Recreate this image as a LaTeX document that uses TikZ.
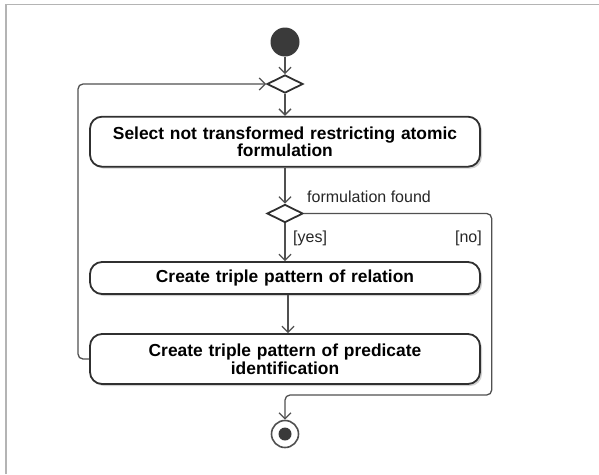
\documentclass[tikz,border=0pt]{standalone}
\usepackage{fontspec}
\setmainfont{Liberation Sans}
\usetikzlibrary{arrows.meta,shapes.geometric,shadows}
\definecolor{edge}{HTML}{505050}
\definecolor{border}{HTML}{303030}
\definecolor{frame}{HTML}{B4B4B4}
\definecolor{blob}{HTML}{3A3A3A}
\begin{document}
\begin{tikzpicture}[x=1pt,y=-1pt,
  action/.style={draw=border, line width=1.8pt, rounded corners=12pt, fill=white,
    minimum width=390pt, text width=380pt, align=center, inner sep=0pt,
    font=\fontsize{17.4}{17.6}\selectfont\bfseries,
    drop shadow={shadow xshift=2pt, shadow yshift=-2pt, opacity=0.18, fill=black}},
  gate/.style={diamond, draw=border, line width=1.8pt, fill=white, inner sep=0pt,
    minimum width=36pt, minimum height=18pt},
  flow/.style={draw=edge, line width=1.3pt, rounded corners=5pt,
    -{Straight Barb[length=6pt, width=12pt]}},
  guard/.style={font=\fontsize{16}{18}\selectfont, text=black!85, inner sep=0pt}]
  % page area and the thin frame along the top and left edges
  \useasboundingbox (0,0) rectangle (599,474);
  \draw[frame, line width=1.6pt] (6,474) -- (6,4.5) -- (599,4.5);

  % start, merge and decision points
  \node[circle, fill=blob, minimum size=29pt, inner sep=0pt] (start) at (285,42) {};
  \node[gate] (merge) at (285,84) {};
  \node[action, minimum height=50pt] (select) at (285,141.7)
    {Select not transformed restricting atomic\\formulation};
  \node[gate] (decide) at (285,213.5) {};
  \node[action, minimum height=32pt] (relation) at (285,278)
    {Create triple pattern of relation};
  \node[action, minimum height=50pt] (predicate) at (285,359)
    {Create triple pattern of predicate\\identification};

  % final node
  \node[circle, draw=edge, line width=1.6pt, fill=white, minimum size=27pt, inner sep=0pt] (final) at (285,434) {};
  \node[circle, fill=blob, minimum size=13pt, inner sep=0pt] (finaldot) at (final.center) {};

  % connectors
  \draw[flow] (start) -- (merge);
  \draw[flow] (merge) -- (select);
  \draw[flow] (select) -- (decide);
  \draw[flow] (decide) -- (relation);
  \draw[flow] ([xshift=3pt]relation.south) -- ([xshift=3pt]predicate.north);
  \draw[flow] (predicate.west) -- (78,359) -- (78,84) -- (merge.west);
  \draw[flow] (decide.east) -- (491.7,213.5) -- (491.7,395) -- (285,395) -- (final.north);

  % guards and labels
  \node[guard, anchor=west] (found) at (307,197) {formulation found};
  \node[guard, anchor=west] (yes) at (293,238.5) {[yes]};
  \node[guard, anchor=east] (no) at (482,238.5) {[no]};
\end{tikzpicture}
\end{document}
